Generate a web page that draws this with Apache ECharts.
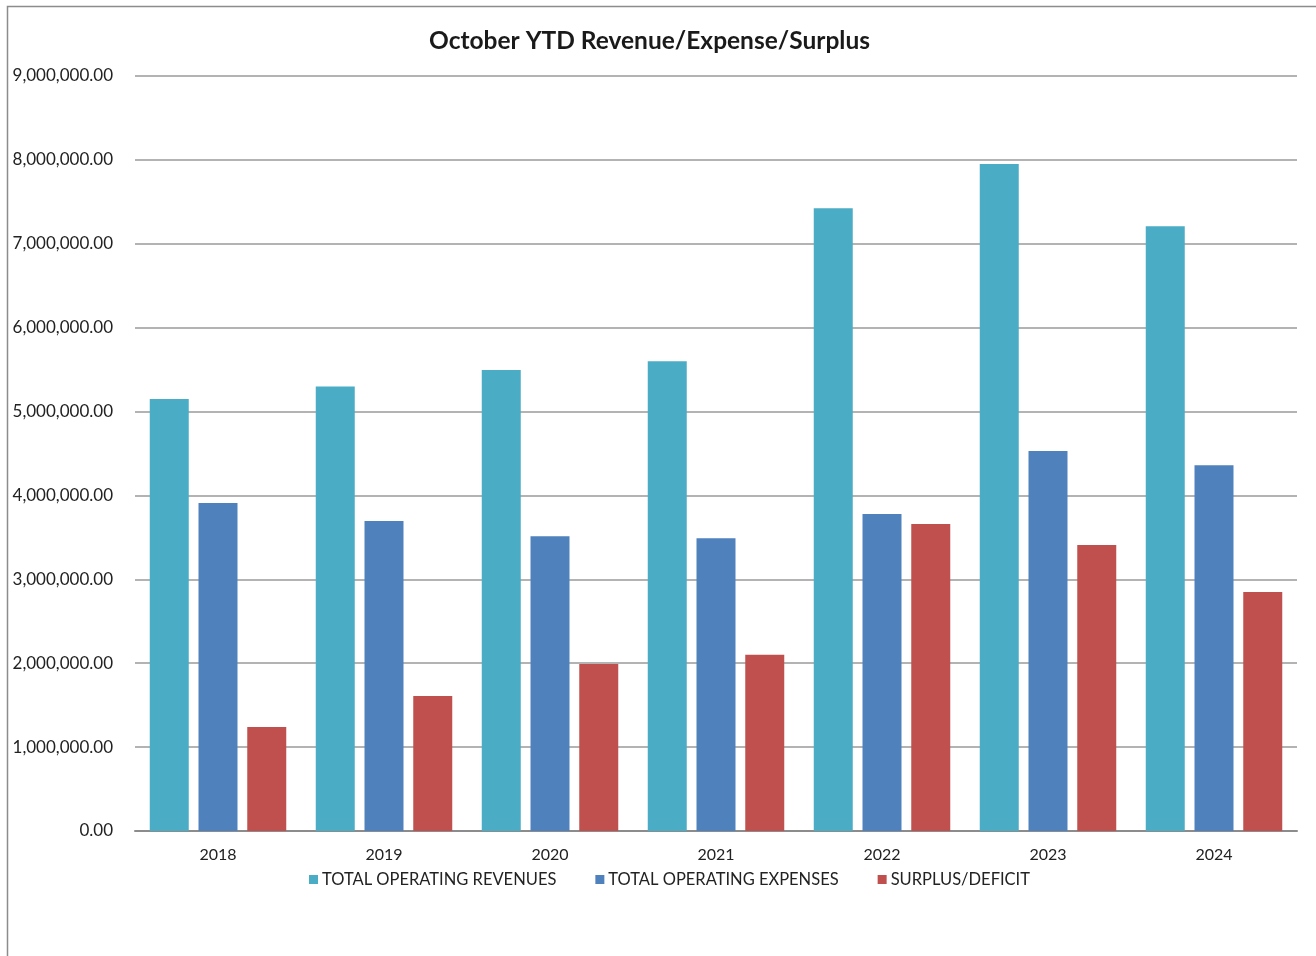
<!DOCTYPE html>
<html>
<head>
<meta charset="utf-8">
<script src="https://cdn.jsdelivr.net/npm/echarts@6/dist/echarts.min.js"></script>
<style>
  html, body { margin: 0; padding: 0; background: #fff; }
  #chart { width: 1316px; height: 956px; }
</style>
</head>
<body>
<div id="chart"></div>
<script>
// Fiscal years shown on the category axis
const years = ['2018', '2019', '2020', '2021', '2022', '2023', '2024'];

// October year-to-date totals per year
const totalOperatingRevenues = [5150000, 5300000, 5495000, 5600000, 7425000, 7950000, 7210000];
const totalOperatingExpenses = [3910000, 3695000, 3515000, 3490000, 3780000, 4530000, 4360000];
const surplusDeficit        = [1240000, 1610000, 1990000, 2100000, 3660000, 3410000, 2850000];

const seriesNames = ['TOTAL OPERATING REVENUES', 'TOTAL OPERATING EXPENSES', 'SURPLUS/DEFICIT'];
const seriesColors = ['#4BACC6', '#4F81BD', '#C0504D'];

const font = 'Lato, "Open Sans", sans-serif';

function money(v) {
  return v.toLocaleString('en-US', { minimumFractionDigits: 2, maximumFractionDigits: 2 });
}

const chart = echarts.init(document.getElementById('chart'), null, { renderer: 'canvas' });

chart.setOption({
  backgroundColor: '#fff',
  animation: false,
  graphic: [{
    type: 'rect',
    silent: true,
    shape: { x: 7.5, y: 6.5, width: 1400, height: 1000 },
    style: { fill: 'none', stroke: '#8c8c8c', lineWidth: 1.5 }
  }],
  title: {
    text: 'October YTD Revenue/Expense/Surplus',
    left: 429,
    top: 29,
    padding: 0,
    textStyle: { fontFamily: font, fontWeight: 'bold', fontSize: 24.5, color: '#1a1a1a' }
  },
  legend: {
    top: 866,
    left: 304,
    itemWidth: 9,
    itemHeight: 9,
    itemGap: 39,
    icon: 'rect',
    textStyle: { fontFamily: font, fontSize: 16.5, color: '#222', padding: [0, 0, 0, -1] },
    data: seriesNames
  },
  grid: { left: 135, right: 19, top: 76, bottom: 125, containLabel: false },
  xAxis: {
    type: 'category',
    data: years,
    axisLine: { lineStyle: { color: '#8c8c8c', width: 2 } },
    axisTick: { show: false },
    axisLabel: { fontFamily: font, fontSize: 16, color: '#222', margin: 16 }
  },
  yAxis: {
    type: 'value',
    min: 0,
    max: 9000000,
    interval: 1000000,
    axisLine: { show: false },
    axisTick: { show: false },
    axisLabel: {
      fontFamily: font, fontSize: 17, color: '#222', margin: 22,
      formatter: money
    },
    splitLine: { lineStyle: { color: '#9a9a9a', width: 1.5 } }
  },
  series: [
    { name: seriesNames[0], type: 'bar', data: totalOperatingRevenues, itemStyle: { color: seriesColors[0] }, barWidth: 39, barGap: '25%' },
    { name: seriesNames[1], type: 'bar', data: totalOperatingExpenses, itemStyle: { color: seriesColors[1] }, barWidth: 39, barGap: '25%' },
    { name: seriesNames[2], type: 'bar', data: surplusDeficit, itemStyle: { color: seriesColors[2] }, barWidth: 39, barGap: '25%' }
  ]
});
</script>
</body>
</html>
